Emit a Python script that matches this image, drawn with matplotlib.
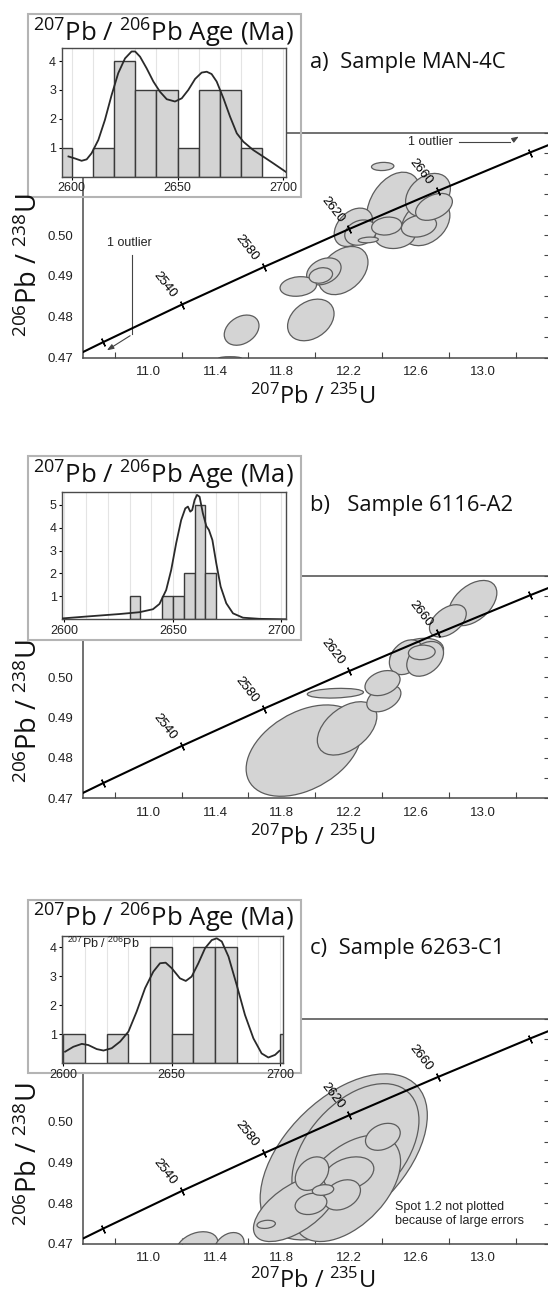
import numpy as np
import matplotlib.pyplot as plt
from matplotlib.patches import Ellipse, Rectangle
from matplotlib.transforms import Affine2D

W, H = 548, 1301

# concordia points (age Ma, 207Pb/235U, 206Pb/238U)
conc_age = [2460, 2500, 2540, 2580, 2620, 2660, 2700, 2740]
conc_x = [10.277, 10.730, 11.201, 11.691, 12.201, 12.732, 13.283, 13.857]
conc_y = [0.46464, 0.47375, 0.48296, 0.49216, 0.50145, 0.51079, 0.52020, 0.52966]
tick_ages = [2500, 2540, 2580, 2620, 2660, 2700]
label_ages = [2540, 2580, 2620, 2660]

# error ellipses: centre x, centre y, sigma x, sigma y, rho
a_cx = [12.469, 12.66, 12.166, 11.973, 12.228, 12.674, 11.559, 12.477, 12.051, 12.271,
        12.620, 12.710, 11.898, 12.033, 12.427, 12.403, 12.317, 11.49]
a_cy = [0.5074, 0.5031, 0.4913, 0.4792, 0.5019, 0.5098, 0.4767, 0.4998, 0.4911, 0.5006,
        0.5022, 0.5069, 0.4874, 0.4901, 0.5022, 0.5168, 0.4988, 0.4698]
a_sx = [0.162, 0.145, 0.149, 0.139, 0.115, 0.134, 0.104, 0.12, 0.103, 0.095,
        0.105, 0.11, 0.109, 0.07, 0.09, 0.067, 0.06, 0.068]
a_sy = [0.0080, 0.0057, 0.0059, 0.0051, 0.0047, 0.0053, 0.0037, 0.0031, 0.0033, 0.0031,
        0.0027, 0.0033, 0.0024, 0.0019, 0.0022, 0.001, 0.0007, 0.0004]
a_rho = [0.35, 0.3, 0.35, 0.3, 0.35, 0.3, 0.3, 0.1, 0.3, 0.2,
         0.2, 0.4, 0.15, 0.2, 0.15, 0.1, 0.2, 0.0]

b_cx = [11.931, 12.190, 12.941, 12.793, 12.607, 12.545, 12.657, 12.637, 12.410, 12.402, 12.120]
b_cy = [0.4818, 0.4873, 0.5183, 0.5139, 0.5057, 0.5049, 0.5045, 0.5061, 0.4947, 0.4985, 0.4960]
b_sx = [0.345, 0.178, 0.145, 0.11, 0.16, 0.102, 0.11, 0.08, 0.102, 0.105, 0.168]
b_sy = [0.0113, 0.0066, 0.0056, 0.004, 0.0039, 0.0043, 0.0043, 0.0018, 0.0033, 0.0031, 0.0012]
b_rho = [0.4, 0.45, 0.45, 0.45, 0.3, 0.3, 0.35, 0.1, 0.4, 0.3, 0.2]

c_cx = [12.17, 12.24, 12.19, 11.88, 12.20, 11.98, 12.16, 12.404, 11.974, 12.046, 11.706, 11.292, 11.484]
c_cy = [0.4913, 0.4929, 0.4836, 0.4787, 0.4872, 0.4872, 0.4820, 0.4962, 0.4798, 0.4832, 0.4748, 0.4693, 0.4693]
c_sx = [0.5, 0.38, 0.32, 0.25, 0.15, 0.1, 0.11, 0.104, 0.095, 0.064, 0.055, 0.125, 0.09]
c_sy = [0.0203, 0.0163, 0.013, 0.0081, 0.0041, 0.0041, 0.0037, 0.0033, 0.0026, 0.0013, 0.001, 0.0037, 0.0035]
c_rho = [0.5, 0.45, 0.5, 0.6, 0.3, 0.3, 0.3, 0.3, 0.2, 0.2, 0.2, 0.3, 0.3]

# histograms of 207Pb/206Pb ages
a_edges = [2590, 2600, 2610, 2620, 2630, 2640, 2650, 2660, 2670, 2680, 2690]
a_counts = [1, 0, 1, 4, 3, 3, 1, 3, 3, 1]
b_edges = [2630, 2635, 2640, 2645, 2650, 2655, 2660, 2665, 2670]
b_counts = [1, 0, 0, 1, 1, 2, 5, 2]
c_edges = [2600, 2610, 2620, 2630, 2640, 2650, 2660, 2670, 2680, 2690, 2700, 2710]
c_counts = [1, 0, 1, 0, 4, 1, 4, 4, 0, 0, 1]

# probability density curves
a_kde_age = [2598.5, 2601.6, 2604.7, 2607.1, 2609.4, 2612.6, 2615.7, 2618.9, 2622, 2625.2, 2628.3,
             2630, 2632.3, 2635.4, 2638.6, 2641.7, 2644.9, 2648.8, 2652, 2655.1, 2658.3, 2661.4,
             2663.8, 2666.1, 2668.5, 2671.7, 2674.8, 2678, 2681.1, 2685.8, 2690.6, 2695.3, 2701.1]
a_kde_val = [0.7, 0.63, 0.55, 0.6, 0.81, 1.27, 1.96, 2.83, 3.58, 4.09, 4.33,
             4.33, 4.15, 3.75, 3.29, 2.94, 2.68, 2.6, 2.71, 3.0, 3.38, 3.6,
             3.63, 3.55, 3.29, 2.71, 2.08, 1.5, 1.21, 0.92, 0.69, 0.46, 0.17]
b_kde_age = [2599.2, 2610, 2625.4, 2634.6, 2640.8, 2643.8, 2646.9, 2649.2, 2651.5, 2653.8, 2655.7,
             2656.9, 2658, 2658.9, 2660, 2661.1, 2662.3, 2663.8, 2665.4, 2666.6, 2668.2, 2670,
             2672, 2674.6, 2677.7, 2682.3, 2690, 2701.8]
b_kde_val = [0.04, 0.12, 0.23, 0.31, 0.44, 0.67, 1.28, 2.15, 3.32, 4.33, 4.84,
             4.92, 4.7, 4.77, 5.21, 5.43, 5.35, 4.63, 4.07, 3.9, 3.46, 2.44,
             1.43, 0.7, 0.26, 0.07, 0.02, 0.0]
c_kde_age = [2600.8, 2604.6, 2608.5, 2611.5, 2615.4, 2618.5, 2622.3, 2626.2, 2630, 2633.8, 2637.7,
             2641.5, 2644.6, 2647.2, 2650, 2653.8, 2656.5, 2659.2, 2662.3, 2665.4, 2668.5, 2670.8,
             2673.1, 2676.2, 2680, 2683.8, 2687.7, 2691.5, 2694.6, 2697.7, 2699.7]
c_kde_val = [0.4, 0.57, 0.67, 0.63, 0.49, 0.44, 0.52, 0.75, 1.09, 1.78, 2.59,
             3.16, 3.45, 3.47, 3.28, 2.93, 2.84, 2.99, 3.45, 3.97, 4.25, 4.31,
             4.2, 3.68, 2.7, 1.67, 0.86, 0.34, 0.2, 0.29, 0.43]

samples = ['a)  Sample MAN-4C', 'b)   Sample 6116-A2', 'c)  Sample 6263-C1']

SANS = 'Open Sans'
ARIAL = 'Liberation Sans'
FILL = '#d4d4d4'
EDGE = '#5c5c5c'


def px_rect(l, t, r, b):
    return [l / W, 1 - b / H, (r - l) / W, (b - t) / H]


def fx(x):
    return x / W


def fy(y):
    return 1 - y / H


fig = plt.figure(figsize=(W / 100, H / 100), dpi=100)

main_px = [(83, 133, 551, 357.5), (83, 576, 551, 798.3), (83, 1019, 551, 1244)]
hist_px = [(61.7, 48.3, 285.7, 176.7), (62.3, 491.7, 285.7, 619.3), (62.3, 935.7, 283.3, 1063.3)]
frame_px = [(28, 14, 301, 197), (28, 456, 301, 640), (28, 900, 301, 1073)]
hist_xlim = [(2595.3, 2701.1), (2599, 2702), (2599.5, 2701.5)]
hist_ylim = [4.44, 5.57, 4.4]
title_y = [41.7, 483.3, 926.7]
sample_y = [68.3, 510.7, 954.3]
xlabel_y = [404, 845, 1288]
ylabel_y = [265, 711, 1154]

ells = [(a_cx, a_cy, a_sx, a_sy, a_rho), (b_cx, b_cy, b_sx, b_sy, b_rho), (c_cx, c_cy, c_sx, c_sy, c_rho)]
hists = [(a_edges, a_counts, a_kde_age, a_kde_val),
         (b_edges, b_counts, b_kde_age, b_kde_val),
         (c_edges, c_counts, c_kde_age, c_kde_val)]

for i in range(3):
    ax = fig.add_axes(px_rect(*main_px[i]), zorder=0)
    ax.set_xlim(10.61, 13.41)
    ax.set_ylim(0.47, 0.525)

    # ellipses
    cx, cy, sx, sy, rho = ells[i]
    for k in range(len(cx)):
        r = rho[k]
        tr = Affine2D().from_values(sx[k], sy[k] * r, 0, sy[k] * np.sqrt(1 - r * r), cx[k], cy[k])
        e = Ellipse((0, 0), 2, 2, transform=tr + ax.transData,
                    facecolor=FILL, edgecolor=EDGE, lw=0.9, zorder=2)
        ax.add_patch(e)

    # concordia
    ax.plot(conc_x, conc_y, color='black', lw=1.5, zorder=3)
    tx = [conc_x[conc_age.index(a)] for a in tick_ages]
    ty = [conc_y[conc_age.index(a)] for a in tick_ages]
    ax.plot(tx, ty, ls='none', marker=(2, 2, 24), ms=6, mew=1.0, color='black', zorder=3)
    for a in label_ages:
        j = conc_age.index(a)
        ax.annotate(str(a), (conc_x[j], conc_y[j]), xytext=(-12, 14), textcoords='offset points',
                    rotation=-52, ha='center', va='center', fontsize=9.5, family=ARIAL, zorder=4)

    # axes styling
    for s in ['left', 'bottom', 'top']:
        ax.spines[s].set_color('#4a4a4a')
        ax.spines[s].set_linewidth(1.1)
    ax.spines['right'].set_visible(False)
    ax.set_xticks(np.arange(11.0, 13.01, 0.4))
    ax.set_xticks(np.arange(10.8, 13.3, 0.4), minor=True)
    ax.set_yticks(np.arange(0.47, 0.521, 0.01))
    ax.set_yticks(np.arange(0.475, 0.526, 0.01), minor=True)
    ax.xaxis.set_major_formatter(plt.FuncFormatter(lambda v, p: f'{v:.1f}'))
    ax.yaxis.set_major_formatter(plt.FuncFormatter(lambda v, p: f'{v:.2f}' if v < 0.505 else ''))
    ax.tick_params(axis='x', which='major', length=0, pad=6, labelsize=9.5, labelcolor='#222')
    ax.tick_params(axis='x', which='minor', direction='in', length=4, width=0.8, color='#444')
    ax.tick_params(axis='y', which='both', left=False, right=True, direction='in', length=5,
                   width=0.8, color='#444', labelsize=9.5, labelcolor='#222', pad=7)
    for t in ax.get_xticklabels() + ax.get_yticklabels():
        t.set_family(ARIAL)

    # histogram inset
    edges, counts, kage, kval = hists[i]
    hx = fig.add_axes(px_rect(*hist_px[i]), zorder=2)
    hx.set_facecolor('white')
    width = edges[1] - edges[0]
    left = [edges[k] for k in range(len(counts)) if counts[k] > 0]
    hgt = [counts[k] for k in range(len(counts)) if counts[k] > 0]
    hx.bar(left, hgt, width=width, align='edge', color=FILL, edgecolor='#3a3a3a', lw=1.0, zorder=2)
    hx.plot(kage, kval, color='#2a2a2a', lw=1.3, zorder=3)
    hx.set_xlim(*hist_xlim[i])
    hx.set_ylim(0, hist_ylim[i])
    hx.set_xticks([2600, 2650, 2700])
    hx.set_xticks(np.arange(2610, 2700, 10), minor=True)
    hx.set_yticks(range(1, int(hist_ylim[i]) + 1))
    hx.grid(axis='x', which='both', color='#e4e4e4', lw=0.8, zorder=0)
    hx.set_axisbelow(True)
    hx.tick_params(which='major', length=2, width=0.8, labelsize=9, pad=2, labelcolor='#222')
    hx.tick_params(which='minor', length=0)
    for t in hx.get_xticklabels() + hx.get_yticklabels():
        t.set_family(ARIAL)
    for s in hx.spines.values():
        s.set_color('#4a4a4a')
        s.set_linewidth(1.0)

    # inset frame
    l, t, r, b = frame_px[i]
    fc = 'none' if i == 0 else 'white'
    fig.patches.append(Rectangle((fx(l), fy(b)), (r - l) / W, (b - t) / H, transform=fig.transFigure,
                                 facecolor=fc, edgecolor='#b4b4b4', lw=1.5, zorder=1))

    fig.text(fx(163), fy(title_y[i]), r'$\mathregular{^{207}}$Pb / $\mathregular{^{206}}$Pb Age (Ma)',
             ha='center', va='baseline', fontsize=18.5, family=SANS, color='#111', zorder=5)
    fig.text(fx(310), fy(sample_y[i]), samples[i], ha='left', va='baseline',
             fontsize=15.8, family=SANS, color='#111', zorder=5)
    fig.text(fx(313), fy(xlabel_y[i]), r'$\mathregular{^{207}}$Pb / $\mathregular{^{235}}$U',
             ha='center', va='baseline', fontsize=17, family=SANS, color='#111')
    fig.text(fx(37), fy(ylabel_y[i]), r'$\mathregular{^{206}}$Pb / $\mathregular{^{238}}$U',
             ha='center', va='baseline', rotation=90, rotation_mode='anchor', fontsize=19.5,
             family=SANS, color='#111')

    if i == 0:
        ax.text(12.69, 0.5228, '1 outlier', ha='center', va='center', fontsize=9, family=ARIAL,
                color='#222', zorder=5)
        ax.plot([12.857, 13.167], [0.52285, 0.52285], color='#444', lw=0.8)
        ax.annotate('', xy=(13.231, 0.5245), xytext=(13.167, 0.52285),
                    arrowprops=dict(arrowstyle='-|>,head_length=0.4,head_width=0.15', lw=0.8, color='#444'))
        ax.text(10.885, 0.498, '1 outlier', ha='center', va='center', fontsize=9, family=ARIAL,
                color='#222', zorder=5)
        ax.plot([10.906, 10.906], [0.4951, 0.4757], color='#444', lw=0.8)
        ax.annotate('', xy=(10.739, 0.4714), xytext=(10.906, 0.4757),
                    arrowprops=dict(arrowstyle='-|>,head_length=0.4,head_width=0.15', lw=0.8, color='#444'))
    if i == 2:
        hx.text(2601.5, 4.38, r'$\mathregular{^{207}}$Pb / $\mathregular{^{206}}$Pb', ha='left', va='top',
                fontsize=9, family=ARIAL, color='#222')
        fig.text(fx(395), fy(1214), 'Spot 1.2 not plotted\nbecause of large errors', ha='left', va='center',
                 fontsize=9, family=ARIAL, color='#222', linespacing=1.25)

fig.savefig('out.png', dpi=100)
